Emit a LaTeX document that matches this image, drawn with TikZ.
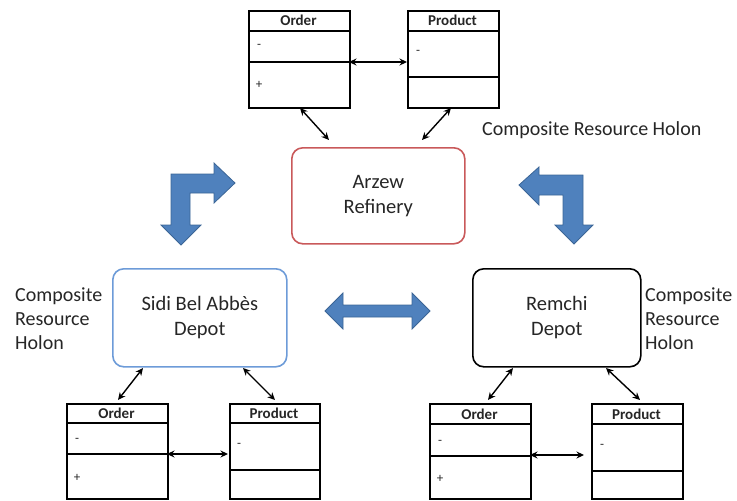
\documentclass[tikz,border=0pt]{standalone}
\usepackage{fontspec}
\setmainfont{Carlito}
\usetikzlibrary{arrows.meta}
\definecolor{arrowblue}{HTML}{4F81BD}
\definecolor{arrowedge}{HTML}{3B6596}
\definecolor{redbox}{HTML}{C9595A}
\definecolor{bluebox}{HTML}{6D9BD8}
\definecolor{txt}{HTML}{262626}
\tikzset{
  cls/.style={draw, line width=1.6pt, rectangle, anchor=north west, inner sep=0pt},
  divl/.style={line width=1.6pt},
  ttl/.style={font=\bfseries\fontsize{15}{17}\selectfont, text=txt},
  sym/.style={font=\fontsize{13}{15}\selectfont, text=txt, inner sep=0pt},
  lbl/.style={font=\fontsize{20}{24}\selectfont, align=left, text=txt, anchor=west, inner sep=0pt},
  holon/.style={rounded corners=11pt, line width=1.6pt, align=center, anchor=north west, inner sep=0pt,
                font=\fontsize{20.5}{25}\selectfont, text=txt},
  dbl/.style={{Stealth[length=7.5pt,width=7pt]}-{Stealth[length=7.5pt,width=7pt]}, line width=1.4pt},
  bigarrow/.style={fill=arrowblue, draw=arrowedge, line width=0.8pt, line join=miter}
}
\begin{document}
\begin{tikzpicture}[x=1pt,y=-1pt]
\useasboundingbox (0,0) rectangle (737,501);

% ---------- top classes ----------
\node[cls, minimum width=101pt, minimum height=97pt] (o1) at (248,10) {};
\draw[divl] (248,31) -- (349,31) (248,62) -- (349,62);
\node[ttl] (o1t) at (298.5,20.5) {Order};
\node[sym] (o1a) at (259,46) {-};
\node[sym] (o1b) at (259,85) {+};

\node[cls, minimum width=91pt, minimum height=97pt] (p1) at (407,10) {};
\draw[divl] (407,31) -- (498,31) (407,77) -- (498,77);
\node[ttl] (p1t) at (452.5,20.5) {Product};
\node[sym] (p1a) at (418,52) {-};

\coordinate (o1r) at (349,62);
\coordinate (p1l) at (407,62);
\draw[dbl] (o1r) -- (p1l);

% ---------- Arzew ----------
\node[holon, draw=redbox, minimum width=173pt, minimum height=96pt] (arz) at (291,147) {Arzew\\Refinery};
\coordinate (o1s) at (300,108);
\coordinate (arzA) at (329,140);
\coordinate (p1s) at (451,108);
\coordinate (arzB) at (422,140);
\draw[dbl] (o1s) -- (arzA);
\draw[dbl] (p1s) -- (arzB);

\node[lbl] (lt) at (482,130) {Composite Resource Holon};

% ---------- big blue arrows ----------
\draw[bigarrow] (171,225) -- (171,174) -- (214,174) -- (214,163) -- (235,183) -- (214,203) -- (214,193)
  -- (190,193) -- (190,225) -- (201,225) -- (181,245) -- (161,225) -- cycle;
\draw[bigarrow] (519,185) -- (539,167) -- (539,175) -- (583,175) -- (583,225) -- (593,225) -- (574,244)
  -- (555,225) -- (563,225) -- (563,195) -- (539,195) -- (539,205) -- cycle;
\draw[bigarrow] (325,311) -- (343,293) -- (343,305) -- (412,305) -- (412,293) -- (430,311) -- (412,329)
  -- (412,317) -- (343,317) -- (343,329) -- cycle;

% ---------- Sidi Bel Abbes ----------
\node[holon, draw=bluebox, minimum width=174pt, minimum height=98pt] (sba) at (112,268) {Sidi Bel Abbès\\Depot};
\node[lbl] (ll) at (15,319) {Composite\\Resource\\Holon};

% ---------- Remchi ----------
\node[holon, draw=black, minimum width=168pt, minimum height=98pt] (rem) at (472,268) {Remchi\\Depot};
\node[lbl] (lr) at (645,319) {Composite\\Resource\\Holon};

% ---------- bottom-left classes ----------
\node[cls, minimum width=101pt, minimum height=95pt] (o2) at (66,403) {};
\draw[divl] (66,423) -- (167,423) (66,454) -- (167,454);
\node[ttl] (o2t) at (116.5,413) {Order};
\node[sym] (o2a) at (77,440) {-};
\node[sym] (o2b) at (77,478) {+};

\node[cls, minimum width=90pt, minimum height=95pt] (p2) at (229,403) {};
\draw[divl] (229,423) -- (319,423) (229,470) -- (319,470);
\node[ttl] (p2t) at (274,413) {Product};
\node[sym] (p2a) at (239,445) {-};

\coordinate (o2r) at (167,454);
\coordinate (p2l) at (228,454);
\draw[dbl] (o2r) -- (p2l);

\coordinate (sbaA) at (143,368);
\coordinate (o2n) at (118,400);
\coordinate (sbaB) at (243,368);
\coordinate (p2n) at (275,400);
\draw[dbl] (sbaA) -- (o2n);
\draw[dbl] (sbaB) -- (p2n);

% ---------- bottom-right classes ----------
\node[cls, minimum width=101pt, minimum height=95pt] (o3) at (429,403) {};
\draw[divl] (429,424) -- (530,424) (429,456) -- (530,456);
\node[ttl] (o3t) at (479.5,414) {Order};
\node[sym] (o3a) at (440,442) {-};
\node[sym] (o3b) at (440,479) {+};

\node[cls, minimum width=91pt, minimum height=95pt] (p3) at (591,403) {};
\draw[divl] (591,424) -- (682,424) (591,471) -- (682,471);
\node[ttl] (p3t) at (636.5,414) {Product};
\node[sym] (p3a) at (602,446) {-};

\coordinate (o3r) at (530,455);
\coordinate (p3l) at (584,455);
\draw[dbl] (o3r) -- (p3l);

\coordinate (remA) at (513,368);
\coordinate (o3n) at (488,400);
\coordinate (remB) at (606,368);
\coordinate (p3n) at (640,400);
\draw[dbl] (remA) -- (o3n);
\draw[dbl] (remB) -- (p3n);
\end{tikzpicture}
\end{document}
